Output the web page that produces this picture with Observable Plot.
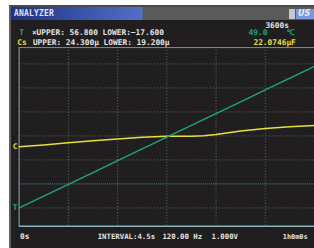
<!DOCTYPE html>
<html>
<head>
<meta charset="utf-8">
<script src="https://cdn.jsdelivr.net/npm/d3@7"></script>
<script src="https://cdn.jsdelivr.net/npm/@observablehq/plot@0.6"></script>
<style>
  html, body { margin: 0; padding: 0; background: #ffffff; overflow: hidden; width: 314px; height: 248px; }
  #panel { position: absolute; left: 9px; top: 5px; width: 305px; height: 243px; background: #201e1e; border-left: 2px solid #5e5e5e; border-top: 2px solid #4a4a4a; box-sizing: border-box; }
  #titlebar { position: absolute; left: 11px; top: 7px; width: 303px; height: 13px;
    background: linear-gradient(90deg, #22307e 0px, #3a52a8 70px, #5270c6 131px, #5a5a5a 132px, #5a5a5a 100%);
    font: bold 8px "DejaVu Sans Mono", monospace; color: #d9e5ff; line-height: 13px; padding-left: 3px; box-sizing: border-box; letter-spacing: 0.2px; }
  #icon1 { position: absolute; left: 289px; top: 9px; width: 6px; height: 10px; background: #c8c8c8; }
  #icon2 { position: absolute; left: 296px; top: 9px; width: 18px; height: 10px; background: #7b98d8; font: italic bold 8px "DejaVu Sans", sans-serif; color: #e4ecff; line-height: 10px; padding-left: 2px; box-sizing: border-box; }
  #chart { position: absolute; left: 0; top: 0; }
</style>
</head>
<body>
<div id="panel"></div>
<div id="titlebar">ANALYZER</div>
<div id="icon1"></div>
<div id="icon2">US</div>
<div id="chart"></div>
<script>
// Time axis (s)
const times = [0, 300, 600, 900, 1200, 1500, 1800, 2100, 2250, 2400, 2700, 3000, 3300, 3600];
// Temperature T (°C)
const tempValues = [-10.0, -5.1, -0.2, 4.7, 9.7, 14.6, 19.5, 24.4, 26.9, 29.3, 34.2, 39.2, 44.1, 49.0];
// Capacitance Cs (µF)
const csValues = [21.47, 21.52, 21.58, 21.64, 21.69, 21.74, 21.77, 21.77, 21.78, 21.82, 21.92, 21.99, 22.04, 22.0746];

// Screen ranges
const tUpper = 56.8, tLower = -17.6;
const csUpper = 24.3, csLower = 19.2;
const timeEnd = 3600;
const xGrid = [600, 1200, 1800, 2400, 3000];
const yGrid = [-10, 10, 20, 30, 40, 50];

const green = "#1ca67b", yellow = "#e8df3e", white = "#e4e4e4";
const font = "DejaVu Sans Mono";

const tData = times.map((t, i) => ({t, v: tempValues[i]}));
// Cs is drawn on its own range, mapped onto the shared screen scale (T units)
const csToScreen = c => tLower + (c - csLower) / (csUpper - csLower) * (tUpper - tLower);
const csData = times.map((t, i) => ({t, v: csToScreen(csValues[i])}));

const fmt3 = d3.format(".3f");
const label = (txt, o) => Plot.text([txt], {text: d => d, fontFamily: font, fontWeight: "bold", fontSize: 8, lineAnchor: "middle", ...o});

const chart = Plot.plot({
  width: 320, height: 248,
  marginTop: 48, marginBottom: 18, marginLeft: 19, marginRight: 0,
  style: {background: "transparent", overflow: "visible"},
  x: {domain: [0, timeEnd], axis: null},
  y: {domain: [tLower, tUpper], axis: null},
  marks: [
    Plot.ruleX(xGrid, {stroke: "#6a6a6a", strokeDasharray: "1,2", strokeWidth: 1}),
    Plot.ruleY(yGrid, {stroke: "#6a6a6a", strokeDasharray: "1,2", strokeWidth: 1}),
    Plot.ruleY([0], {stroke: "#5a8ea6", strokeDasharray: "1,1", strokeWidth: 1}),
    Plot.ruleX([0], {stroke: "#6a7c88", strokeWidth: 1.5}),
    Plot.ruleY([tUpper], {stroke: "#7f9099", strokeWidth: 1}),
    Plot.ruleY([tLower], {stroke: "#86b6b8", strokeWidth: 1.5}),
    Plot.line(csData, {x: "t", y: "v", stroke: yellow, strokeWidth: 1.5}),
    Plot.line(tData, {x: "t", y: "v", stroke: green, strokeWidth: 1.5}),
    Plot.text([csData[0]], {x: "t", y: "v", text: () => "C", dx: -4, fill: yellow, fontFamily: font, fontWeight: "bold", fontSize: 8}),
    Plot.text([tData[0]], {x: "t", y: "v", text: () => "T", dx: -4, fill: green, fontFamily: font, fontWeight: "bold", fontSize: 8}),
    // header
    label("T", {frameAnchor: "top-left", textAnchor: "start", dx: 0, dy: -15, fill: green}),
    label(`×UPPER: ${fmt3(tUpper)} LOWER:${fmt3(tLower)}`, {frameAnchor: "top-left", textAnchor: "start", dx: 13, dy: -15, fill: white}),
    label("Cs", {frameAnchor: "top-left", textAnchor: "start", dx: -2, dy: -5, fill: yellow}),
    label(`UPPER: ${fmt3(csUpper)}µ LOWER: ${fmt3(csLower)}µ`, {frameAnchor: "top-left", textAnchor: "start", dx: 14, dy: -5, fill: white}),
    label(`${timeEnd}s`, {frameAnchor: "top-right", textAnchor: "end", dx: -26, dy: -23, fill: white}),
    label(tempValues[tempValues.length - 1].toFixed(1), {frameAnchor: "top-right", textAnchor: "end", dx: -48, dy: -15, fill: green}),
    label("℃", {frameAnchor: "top-right", textAnchor: "end", dx: -20, dy: -15, fill: green}),
    label(`${csValues[csValues.length - 1].toFixed(4)}µF`, {frameAnchor: "top-right", textAnchor: "end", dx: -19, dy: -5, fill: yellow}),
    // footer
    label("0s", {frameAnchor: "bottom-left", textAnchor: "start", dx: 1, dy: 11, fill: white}),
    label("INTERVAL:4.5s", {frameAnchor: "bottom-left", textAnchor: "start", dx: 80, dy: 11, fill: white, fontSize: 7.5}),
    label("120.00 Hz", {frameAnchor: "bottom-left", textAnchor: "start", dx: 146, dy: 11, fill: white, fontSize: 7.5}),
    label("1.000V", {frameAnchor: "bottom-left", textAnchor: "start", dx: 196, dy: 11, fill: white, fontSize: 7.5}),
    label("1h0m0s", {frameAnchor: "bottom-right", textAnchor: "end", dx: -7, dy: 11, fill: white, fontSize: 7})
  ]
});
document.getElementById("chart").appendChild(chart);
</script>
</body>
</html>
